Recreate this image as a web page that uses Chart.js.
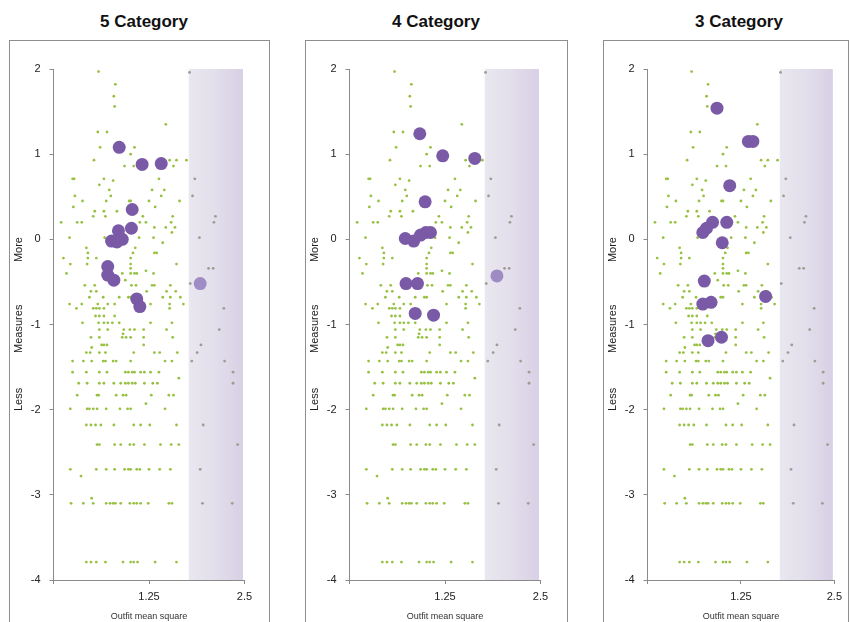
<!DOCTYPE html>
<html>
<head>
<meta charset="utf-8">
<script src="https://cdn.jsdelivr.net/npm/chart.js@4.4.1/dist/chart.umd.min.js"></script>
<style>
  html, body { margin: 0; padding: 0; background: #fff; overflow: hidden; }
  body { font-family: 'Liberation Sans', Arial, sans-serif; width: 853px; height: 622px; position: relative; }
  .title { position: absolute; top: 12px; line-height: 20px; font-size: 17px; font-weight: bold; color: #111;
           transform: translateX(-50%); white-space: nowrap; }
  .panel { position: absolute; top: 40px; height: 600px; border: 1px solid #8e8e8e; }
  .panel canvas { display: block; }
</style>
</head>
<body>
<div class="title" style="left:144px">5 Category</div>
<div class="title" style="left:436px">4 Category</div>
<div class="title" style="left:739px">3 Category</div>

<div class="panel" style="left:9px;width:259px"><canvas id="cat5" width="259" height="581"></canvas></div>
<div class="panel" style="left:305px;width:261px"><canvas id="cat4" width="261" height="581"></canvas></div>
<div class="panel" style="left:603px;width:244px"><canvas id="cat3" width="244" height="581"></canvas></div>

<script>
// Items (small green dots) - same in every panel, grouped by measure row
const rowMeasure = [1.97, 1.96, 1.82, 1.68, 1.56, 1.35, 1.26, 1.08, 1.00, 0.93, 0.86, 0.71, 0.69, 0.64, 0.58, 0.51,
  0.45, 0.38, 0.33, 0.27, 0.20, 0.14, 0.08, 0.02, -0.04, -0.10, -0.16, -0.22, -0.29, -0.34, -0.37, -0.40, -0.48,
  -0.52, -0.54, -0.61, -0.68, -0.76, -0.81, -0.90, -0.98, -1.06, -1.11, -1.15, -1.24, -1.27, -1.33, -1.43, -1.56,
  -1.63, -1.69, -1.83, -1.93, -1.99, -2.18, -2.41, -2.70, -2.78, -3.04, -3.10, -3.79];
const rowOutfit = [
  [0.59], [1.78], [0.81], [0.79], [0.80], [1.47], [0.58, 0.70], [0.61, 1.06], [1.01],
  [0.53, 1.52, 1.61, 1.74], [0.93, 1.05, 1.57], [0.25, 0.27, 0.66, 1.38, 1.85], [0.78], [0.60],
  [0.73, 1.29, 1.45], [0.28, 0.75, 1.41, 1.82], [0.38, 0.69, 0.99, 1.01, 1.25, 1.65], [0.26, 1.33],
  [0.54, 0.66, 0.83], [0.52, 0.68, 1.17, 1.56, 2.12], [0.10, 0.31, 0.37, 1.13, 1.21, 1.54, 2.10],
  [1.32, 1.47, 1.59], [1.55], [0.21, 0.67, 1.12, 1.31, 1.91], [1.43], [0.43, 1.07],
  [0.45, 1.04, 1.32, 1.35], [0.13, 0.45, 0.56, 1.01], [0.22, 0.44, 1.01, 1.61], [1.01, 2.03, 2.09], [1.21],
  [0.17, 0.90, 1.01, 1.06, 1.09, 1.31], [0.94], [1.79], [0.41, 0.54, 1.02, 1.08, 1.29, 1.32, 1.53],
  [0.49, 0.56, 1.22, 1.48, 1.60], [0.47, 0.65, 0.86, 0.98, 1.01, 1.43, 1.53, 1.66],
  [0.21, 0.37, 0.58, 0.71, 0.80, 1.27, 1.52, 1.70], [0.30, 0.52, 0.56, 0.60, 0.66, 1.52, 2.23],
  [0.55, 0.60, 0.66, 0.80], [0.38, 0.59, 0.66, 0.71, 0.77, 0.86, 1.27, 1.55],
  [0.60, 0.71, 0.92, 1.00, 1.06, 1.18, 1.48, 2.17], [0.91], [0.49, 0.60, 0.90, 0.95, 1.01, 1.18, 1.56],
  [0.63, 0.66, 0.70, 1.18, 1.93], [0.50], [0.43, 0.48, 0.60, 0.68, 1.05, 1.32, 1.39, 1.62, 1.88],
  [0.25, 0.39, 0.50, 0.65, 0.68, 0.78, 0.82, 1.01, 1.46, 1.55, 1.81, 2.24],
  [0.25, 0.43, 0.60, 0.70, 0.94, 0.98, 1.03, 1.06, 1.14, 1.19, 1.27, 1.38, 2.35], [1.64],
  [0.33, 0.44, 0.60, 0.66, 0.79, 0.88, 0.94, 0.98, 1.03, 1.07, 1.19, 1.30, 1.36, 2.35],
  [0.31, 0.57, 0.59, 0.82, 0.91, 0.95, 1.28, 1.51, 1.57], [1.21],
  [0.22, 0.44, 0.47, 0.52, 0.57, 0.69, 0.87, 0.97, 1.01, 1.46],
  [0.43, 0.49, 0.55, 0.62, 0.79, 1.05, 1.14, 1.26, 1.61, 1.96],
  [0.57, 0.60, 0.80, 0.88, 1.00, 1.05, 1.19, 1.40, 1.54, 1.64, 2.41],
  [0.22, 0.56, 0.69, 0.80, 0.93, 0.98, 1.01, 1.09, 1.13, 1.25, 1.39, 1.53, 1.92], [0.36], [0.50],
  [0.23, 0.39, 0.52, 0.69, 0.74, 0.78, 0.81, 0.88, 1.00, 1.05, 1.09, 1.14, 1.24, 1.51, 1.55, 1.95, 2.34],
  [0.43, 0.49, 0.56, 0.68, 0.91, 1.01, 1.05, 1.10, 1.33, 1.61]
];

// Persons / steps (big purple dots) per category version
const cat5Outfit  = [0.86, 1.16, 1.41, 1.03, 1.02, 0.85, 0.76, 0.83, 0.90, 0.71, 0.71, 0.79, 1.09, 1.13, 1.92];
const cat5Measure = [1.08, 0.88, 0.89, 0.35, 0.13, 0.10, -0.02, -0.03, 0.00, -0.32, -0.42, -0.48, -0.70, -0.79, -0.52];
const cat4Outfit  = [0.92, 1.22, 1.64, 0.99, 0.73, 0.84, 0.93, 1.00, 1.06, 0.74, 0.89, 0.86, 1.10, 1.93];
const cat4Measure = [1.24, 0.98, 0.95, 0.44, 0.01, -0.02, 0.05, 0.08, 0.08, -0.52, -0.52, -0.87, -0.89, -0.43];
const cat3Outfit  = [0.93, 1.35, 1.41, 1.10, 0.87, 0.79, 0.74, 1.06, 1.00, 0.76, 1.58, 0.74, 0.85, 0.81, 0.99];
const cat3Measure = [1.54, 1.15, 1.15, 0.63, 0.20, 0.13, 0.08, 0.20, -0.04, -0.49, -0.67, -0.76, -0.74, -1.19, -1.15];

const xTicks = [0, 1.25, 2.5];
const yWords = [['More', -0.12], ['Measures', -1.05], ['Less', -1.88]];
const bandFrom = 1.77, bandTo = 2.48;   // misfit zone on the outfit axis

const itemPoints = [];
rowMeasure.forEach((m, i) => rowOutfit[i].forEach(o => itemPoints.push({ x: o, y: m })));

const toPoints = (xs, ys) => xs.map((v, i) => ({ x: v, y: ys[i] }));

const misfitBand = {
  id: 'misfitBand',
  beforeDraw(chart) {
    const { ctx, scales: { x, y } } = chart;
    const l = x.getPixelForValue(bandFrom), r = x.getPixelForValue(bandTo);
    const t = y.getPixelForValue(2), b = y.getPixelForValue(-4);
    const g = ctx.createLinearGradient(l, 0, r, 0);
    g.addColorStop(0, '#e9e7ef');
    g.addColorStop(0.5, '#e2deeb');
    g.addColorStop(1, '#d8d0e5');
    ctx.save();
    ctx.fillStyle = g;
    ctx.fillRect(l, t, r - l, b - t);
    ctx.restore();
  }
};

const sideWords = {
  id: 'sideWords',
  afterDraw(chart) {
    const { ctx, chartArea, scales: { y } } = chart;
    ctx.save();
    ctx.font = '11px "Liberation Sans", Arial, sans-serif';
    ctx.fillStyle = '#222';
    ctx.textAlign = 'center';
    ctx.textBaseline = 'middle';
    yWords.forEach(([w, v]) => {
      ctx.save();
      ctx.translate(chartArea.left - 35, y.getPixelForValue(v));
      ctx.rotate(-Math.PI / 2);
      ctx.fillText(w, 0, 0);
      ctx.restore();
    });
    ctx.restore();
  }
};

function renderPanel(id, outfit, measure) {
  const canvas = document.getElementById(id);
  const rightPad = canvas.width - 234.5;
  new Chart(canvas, {
    type: 'scatter',
    data: {
      datasets: [
        {
          label: 'Persons',
          data: toPoints(outfit, measure),
          pointRadius: 6.5,
          borderWidth: 0,
          backgroundColor: c => (c.raw && c.raw.x >= bandFrom) ? '#a08cc4' : '#7a5aa6'
        },
        {
          label: 'Items',
          data: itemPoints,
          pointRadius: 1.4,
          borderWidth: 0,
          backgroundColor: c => (c.raw && c.raw.x >= bandFrom) ? '#9d9d95' : '#98c143'
        }
      ]
    },
    options: {
      responsive: false,
      animation: false,
      layout: { padding: { left: 0, top: 28, right: rightPad, bottom: 0 } },
      plugins: { legend: { display: false }, tooltip: { enabled: false } },
      scales: {
        x: {
          type: 'linear', min: 0, max: 2.5,
          afterBuildTicks: s => { s.ticks = xTicks.map(v => ({ value: v })); },
          afterFit: s => { s.height = 42; },
          ticks: {
            padding: 6, color: '#222',
            font: { size: 11, family: '"Liberation Sans", Arial, sans-serif' },
            callback: v => v === 0 ? '' : String(v)
          },
          grid: { drawOnChartArea: false, tickLength: 4, color: '#8a8a8a' },
          border: { color: '#8a8a8a', width: 1 },
          title: {
            display: true, text: 'Outfit mean square', color: '#333',
            font: { size: 9, family: '"Liberation Sans", Arial, sans-serif' },
            padding: { top: 0, bottom: 0 }
          }
        },
        y: {
          min: -4, max: 2,
          afterFit: s => { s.width = 43.5; },
          ticks: {
            stepSize: 1, padding: 9, color: '#222',
            font: { size: 11, family: '"Liberation Sans", Arial, sans-serif' }
          },
          grid: { drawOnChartArea: false, tickLength: 4, color: '#8a8a8a' },
          border: { color: '#8a8a8a', width: 1 }
        }
      }
    },
    plugins: [misfitBand, sideWords]
  });
}

renderPanel('cat5', cat5Outfit, cat5Measure);
renderPanel('cat4', cat4Outfit, cat4Measure);
renderPanel('cat3', cat3Outfit, cat3Measure);
</script>
</body>
</html>
